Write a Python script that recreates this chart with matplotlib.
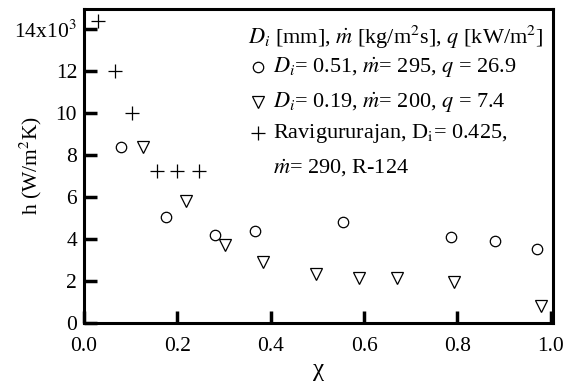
import matplotlib
matplotlib.use("Agg")
import matplotlib.pyplot as plt

plt.rcParams["font.family"] = ["Liberation Serif", "DejaVu Serif"]
plt.rcParams["mathtext.fontset"] = "stix"

# ---- data: quality x vs heat transfer coefficient h (x10^3 W/m2K) ----
x_d051 = [0.079, 0.175, 0.281, 0.366, 0.555, 0.786, 0.880, 0.970]
h_d051 = [8.40, 5.05, 4.19, 4.40, 4.80, 4.10, 3.90, 3.50]

x_d019 = [0.126, 0.218, 0.302, 0.384, 0.497, 0.589, 0.670, 0.792, 0.979]
h_d019 = [8.40, 5.80, 3.70, 2.90, 2.35, 2.15, 2.15, 1.95, 0.80]

x_ravi = [0.030, 0.066, 0.103, 0.156, 0.199, 0.246]
h_ravi = [14.4, 12.0, 10.0, 7.25, 7.25, 7.25]

yticks = [0, 2, 4, 6, 8, 10, 12, 14]
ytick_labels = ["0", "2", "4", "6", "8", "10", "12", r"14x10$^3$"]
xticks = [0.0, 0.2, 0.4, 0.6, 0.8, 1.0]

fig = plt.figure(figsize=(5.69, 3.87), dpi=100)
ax = fig.add_axes([84 / 569, 64 / 387, 469 / 569, 314 / 387])

mk = dict(linestyle="none", markerfacecolor="none", markeredgecolor="black",
          markeredgewidth=0.9, color="black")
ax.plot(x_d051, h_d051, marker="o", markersize=7.5, **mk)
ax.plot(x_d019, h_d019, marker="v", markersize=8.5, **mk)
ax.plot(x_ravi, h_ravi, marker="+", markersize=10, **mk)

ax.set_xlim(0, 1.005)
ax.set_ylim(0, 14.95)
ax.set_xticks(xticks)
ax.set_xticklabels([f"{t:.1f}" for t in xticks])
ax.set_yticks(yticks)
ax.set_yticklabels(ytick_labels)

for s in ax.spines.values():
    s.set_linewidth(2.2)
ax.tick_params(direction="in", length=9, width=2.5, labelsize=15.5,
               top=False, right=False)
ax.tick_params(axis="y", pad=5)
ax.tick_params(axis="x", pad=10)

ax.set_xlabel("χ", fontsize=18, labelpad=2)
ax.set_ylabel(r"h (W/m$^2$K)", fontsize=15.5)
ax.yaxis.set_label_coords(-0.085, 0.5)

# ---- key drawn inside the axes ----
fs = 16
ax.text(0.350, 0.911, r"$D_i$ [mm], $\dot{m}$ [kg/m$^2$s], $q$ [kW/m$^2$]",
        transform=ax.transAxes, fontsize=fs, va="center")
rows = [
    ("o", 7.5, 0.815, r"$D_i$= 0.51, $\dot{m}$= 295, $q$ = 26.9"),
    ("v", 8.5, 0.704, r"$D_i$= 0.19, $\dot{m}$= 200, $q$ = 7.4"),
    ("+", 10, 0.605, r"Ravigururajan, D$_\mathrm{i}$= 0.425,"),
]
for m, ms, y, label in rows:
    ax.plot([0.372], [y], marker=m, markersize=ms, transform=ax.transAxes,
            clip_on=False, **mk)
    ax.text(0.403, y, label, transform=ax.transAxes, fontsize=fs, va="center")
ax.text(0.403, 0.493, r"$\dot{m}$= 290, R-124", transform=ax.transAxes,
        fontsize=fs, va="center")

fig.savefig("out.png", dpi=100)
